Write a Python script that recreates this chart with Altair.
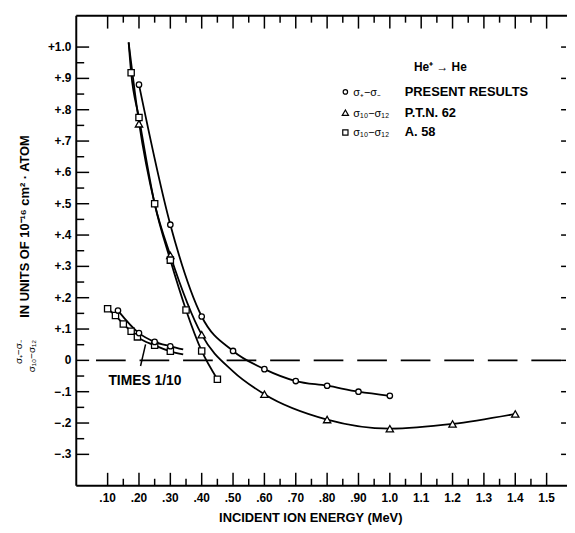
import altair as alt
import pandas as pd

# ---------------- data ----------------
# sigma+ - sigma-  PRESENT RESULTS (circles)
present_x = [0.20, 0.30, 0.40, 0.50, 0.60, 0.70, 0.80, 0.90, 1.00]
present_y = [0.88, 0.433, 0.14, 0.03, -0.028, -0.066, -0.081, -0.10, -0.113]

# sigma10 - sigma12  P.T.N. 62 (triangles)
ptn_x = [0.20, 0.30, 0.40, 0.60, 0.80, 1.00, 1.20, 1.40]
ptn_y = [0.755, 0.335, 0.082, -0.108, -0.189, -0.218, -0.203, -0.171]
ptn_curve_x = [0.167, 0.20, 0.25, 0.30, 0.40, 0.50, 0.60, 0.80, 1.00, 1.20, 1.40]
ptn_curve_y = [1.015, 0.76, 0.50, 0.335, 0.082, -0.035, -0.108, -0.189, -0.218, -0.203, -0.171]

# sigma10 - sigma12  A. 58 (squares)
a58_x = [0.175, 0.20, 0.25, 0.30, 0.35, 0.40, 0.45]
a58_y = [0.918, 0.775, 0.50, 0.32, 0.161, 0.03, -0.06]
a58_curve_x = [0.167, 0.175, 0.20, 0.25, 0.30, 0.35, 0.40, 0.45]
a58_curve_y = [1.015, 0.918, 0.775, 0.50, 0.32, 0.161, 0.03, -0.06]

# "TIMES 1/10" group
low_a58_x = [0.10, 0.125, 0.15, 0.175, 0.195, 0.25, 0.30]
low_a58_y = [0.165, 0.143, 0.116, 0.093, 0.075, 0.048, 0.029]
low_a58_curve_x = low_a58_x + [0.341]
low_a58_curve_y = low_a58_y + [0.019]
low_present_x = [0.133, 0.20, 0.25, 0.30]
low_present_y = [0.159, 0.087, 0.059, 0.045]
low_present_curve_x = low_present_x + [0.341]
low_present_curve_y = low_present_y + [0.035]

# axes
x_tick_vals = [0.1, 0.2, 0.3, 0.4, 0.5, 0.6, 0.7, 0.8, 0.9, 1.0, 1.1, 1.2, 1.3, 1.4, 1.5]
x_tick_labels = [".10", ".20", ".30", ".40", ".50", ".60", ".70", ".80", ".90",
                 "1.0", "1.1", "1.2", "1.3", "1.4", "1.5"]
x_minor_vals = [0.15, 0.25, 0.35, 0.45, 0.55, 0.65, 0.75, 0.85, 0.95,
                1.05, 1.15, 1.25, 1.35, 1.45]
y_tick_vals = [1.0, 0.9, 0.8, 0.7, 0.6, 0.5, 0.4, 0.3, 0.2, 0.1, 0.0, -0.1, -0.2, -0.3]
y_tick_labels = ["+1.0", "+.9", "+.8", "+.7", "+.6", "+.5", "+.4", "+.3", "+.2", "+.1",
                 "0", "\u2212.1", "\u2212.2", "\u2212.3"]
y_minor_vals = [0.95, 0.85, 0.75, 0.65, 0.55, 0.45, 0.35, 0.25, 0.15, 0.05,
                -0.05, -0.15, -0.25]

FONT = "Liberation Sans"
W, H = 496, 475
xs = alt.Scale(domain=[0, 1.565], nice=False, zero=False)
ys = alt.Scale(domain=[-0.4, 1.1], nice=False, zero=False)
dummy = pd.DataFrame({"a": [0]})


def X(f="x"):
    return alt.X(f"{f}:Q", scale=xs, axis=None)


def Y(f="y"):
    return alt.Y(f"{f}:Q", scale=ys, axis=None)


def curve(xv, yv):
    return alt.Chart(pd.DataFrame({"x": xv, "y": yv})).mark_line(
        interpolate="monotone", color="black", strokeWidth=1.8
    ).encode(x=X(), y=Y())


def pts(xv, yv, shape, size):
    return alt.Chart(pd.DataFrame({"x": xv, "y": yv})).mark_point(
        shape=shape, size=size, filled=True, color="white", stroke="black",
        strokeWidth=1.3, opacity=1
    ).encode(x=X(), y=Y())


def ptext(s, x, y, size=13, weight="bold", angle=0, align="center"):
    return alt.Chart(pd.DataFrame({"t": [s]})).mark_text(
        font=FONT, fontSize=size, fontWeight=weight, angle=angle, align=align,
        baseline="middle", color="black"
    ).encode(x=alt.value(x), y=alt.value(y), text="t:N")


def prule(**enc):
    return alt.Chart(dummy).mark_rule(color="black", strokeWidth=2).encode(**enc)


layers = []

# frame (no right-hand line in the original)
layers.append(prule(x=alt.value(0), y=alt.value(0), y2=alt.value(H)))
layers.append(prule(x=alt.value(0), x2=alt.value(W), y=alt.value(0)))
layers.append(prule(x=alt.value(0), x2=alt.value(W), y=alt.value(H)))

# ticks
xmaj = pd.DataFrame({"v": x_tick_vals})
xmin = pd.DataFrame({"v": x_minor_vals})
ymaj = pd.DataFrame({"v": y_tick_vals})
ymin = pd.DataFrame({"v": y_minor_vals})
tick = dict(color="black", strokeWidth=1.5)
layers += [
    alt.Chart(xmaj).mark_rule(**tick).encode(x=X("v"), y=alt.value(H - 13), y2=alt.value(H)),
    alt.Chart(xmin).mark_rule(**tick).encode(x=X("v"), y=alt.value(H - 7), y2=alt.value(H)),
    alt.Chart(xmaj).mark_rule(**tick).encode(x=X("v"), y=alt.value(0), y2=alt.value(13)),
    alt.Chart(xmin).mark_rule(**tick).encode(x=X("v"), y=alt.value(0), y2=alt.value(7)),
    alt.Chart(ymaj).mark_rule(**tick).encode(y=Y("v"), x=alt.value(0), x2=alt.value(13)),
    alt.Chart(ymin).mark_rule(**tick).encode(y=Y("v"), x=alt.value(0), x2=alt.value(8)),
    alt.Chart(ymaj).mark_rule(**tick).encode(y=Y("v"), x=alt.value(W - 6), x2=alt.value(W - 1)),
]

# tick labels
layers.append(
    alt.Chart(pd.DataFrame({"v": x_tick_vals, "t": x_tick_labels})).mark_text(
        font=FONT, fontSize=12, fontWeight="bold", baseline="middle", align="center", color="black"
    ).encode(x=X("v"), y=alt.value(H + 12), text="t:N")
)
layers.append(
    alt.Chart(pd.DataFrame({"v": y_tick_vals, "t": y_tick_labels})).mark_text(
        font=FONT, fontSize=12, fontWeight="bold", baseline="middle", align="right", color="black"
    ).encode(y=Y("v"), x=alt.value(-5), text="t:N")
)

# axis titles
layers.append(ptext("INCIDENT ION ENERGY (MeV)", 237, H + 33, size=13))
layers.append(ptext("IN UNITS OF 10\u207b\u00b9\u2076 cm\u00b2 \u00b7 ATOM", -52, 213, size=13, angle=270))
layers.append(ptext("\u03c3\u208a\u2212\u03c3\u208b", -58, 340, size=10, weight="normal", angle=270))
layers.append(ptext("\u03c3\u2081\u2080\u2212\u03c3\u2081\u2082", -45, 344, size=10, weight="normal", angle=270))

# zero dashed line
layers.append(
    alt.Chart(pd.DataFrame({"x0": [0.063], "x1": [1.565], "y": [0.0]})).mark_rule(
        color="black", strokeWidth=2, strokeDash=[30, 14]
    ).encode(x=X("x0"), x2="x1:Q", y=Y("y"))
)

# curves
layers += [
    curve(present_x, present_y),
    curve(ptn_curve_x, ptn_curve_y),
    curve(a58_curve_x, a58_curve_y),
    curve(low_a58_curve_x, low_a58_curve_y),
    curve(low_present_curve_x, low_present_curve_y),
]

# markers
layers += [
    pts(present_x, present_y, "circle", 30),
    pts(ptn_x, ptn_y, "triangle-up", 55),
    pts(a58_x, a58_y, "square", 40),
    pts(low_a58_x, low_a58_y, "square", 40),
    pts(low_present_x, low_present_y, "circle", 30),
]

# TIMES 1/10 annotation
layers.append(
    alt.Chart(pd.DataFrame({"x0": [0.221], "y0": [0.051], "x1": [0.205], "y1": [-0.018]})).mark_rule(
        color="black", strokeWidth=1.5
    ).encode(x=X("x0"), y=Y("y0"), x2="x1:Q", y2="y1:Q")
)
layers.append(
    alt.Chart(pd.DataFrame({"x": [0.219], "y": [-0.066], "t": ["TIMES 1/10"]})).mark_text(
        font=FONT, fontSize=14, fontWeight="bold", baseline="middle", align="center", color="black"
    ).encode(x=X(), y=Y(), text="t:N")
)

# legend
layers.append(ptext("He\u207a \u2192 He", 368, 52, size=12))
leg_rows = [77, 98, 118]
leg_shapes = [("circle", 20), ("triangle-up", 40), ("square", 28)]
leg_sigma = ["\u03c3\u208a\u2212\u03c3\u208b", "\u03c3\u2081\u2080\u2212\u03c3\u2081\u2082",
             "\u03c3\u2081\u2080\u2212\u03c3\u2081\u2082"]
leg_labels = ["PRESENT RESULTS", "P.T.N. 62", "A. 58"]
for yy, (shp, sz), sg, lb in zip(leg_rows, leg_shapes, leg_sigma, leg_labels):
    layers.append(
        alt.Chart(dummy).mark_point(
            shape=shp, size=sz, filled=True, color="white", stroke="black", strokeWidth=1.2, opacity=1
        ).encode(x=alt.value(272), y=alt.value(yy))
    )
    layers.append(ptext(sg, 280, yy + 1, size=11, weight="normal", align="left"))
    layers.append(ptext(lb, 332, yy, size=13, align="left"))

chart = alt.layer(*layers).properties(
    width=W,
    height=H,
    autosize=alt.AutoSizeParams(type="none"),
    padding={"left": 69, "top": 5, "right": 0, "bottom": 45},
    background="white",
).configure_view(strokeWidth=0)

chart.save("out.html", embed_options={"renderer": "svg", "actions": False})
